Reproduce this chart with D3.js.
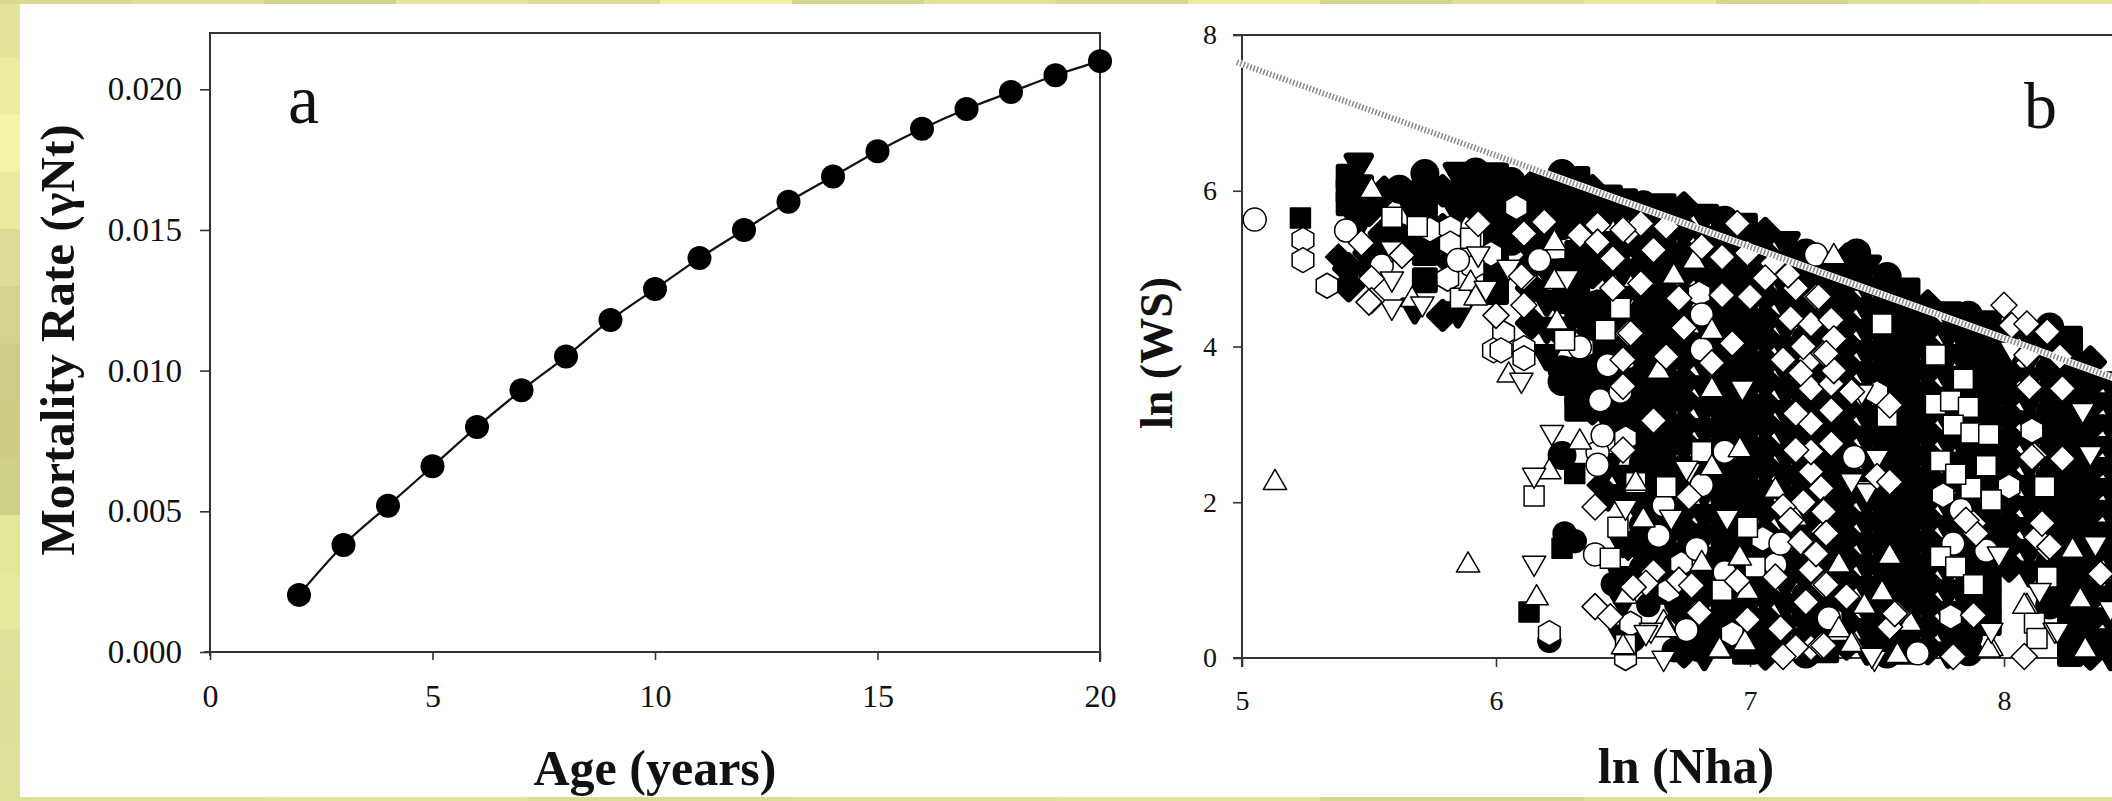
<!DOCTYPE html>
<html><head><meta charset="utf-8">
<script src="https://cdn.jsdelivr.net/npm/d3@7"></script>
<style>html,body{margin:0;background:#fff}svg{display:block}text{font-family:"Liberation Serif",serif;fill:#111}</style>
</head><body><svg id="c" width="2112" height="801"></svg>
<script>
// Panel a
const ages=[2,3,4,5,6,7,8,9,10,11,12,13,14,15,16,17,18,19,20];
const mortality=[.00203,.0038,.0052,.0066,.008,.0093,.0105,.0118,.0129,.014,.015,.016,.0169,.0178,.0186,.0193,.0199,.0205,.0210];
const xTicksA=[0,5,10,15,20];
const yTicksA=[0,.005,.01,.015,.02];
// Panel b tick values
const xTicksB=[5,6,7,8];
const yTicksB=[0,2,4,6,8];
// Boundary line of panel b
const limitX=[4.98,8.43];
const limitY=[7.65,3.6];
// Scatter series, each row: x, then the y values at that x
const filledCircle=[[5.62,6.02,5.4],[5.72,6.22,5.98],[5.92,6.24,6,5.8],[6.06,6.12,5.9,5.65,5.35],[6.26,6.22,6,5.75,5.55,4.95,4.6,4.2,3.7,3.55,2.6],[6.27,1.6],[6.31,1.5],[6.46,.95],[6.71,.69],[6.6,.68],[6.7,.1],[6.8,.1],[6.54,.23],[6.21,.22],
[6.58,5.82,5.55,5.25,5,4.72,4.45,4.15,3.9,3.62,3.35,3.05,2.8,2.5,2.25,1.95,1.7,1.42,1.15],
[6.9,5.62,5.35,5.05,4.8,4.5,4.25,3.95,3.7,3.4,3.15,2.85,2.6,2.3,2.05,1.8,1.5,1.25,.95,.7,.42,.18],
[7.22,5.2,4.95,4.65,4.4,4.1,3.85,3.55,3.3,3,2.75,2.45,2.2,1.9,1.65,1.35,1.1,.8,.55,.25,.05],
[7.42,5.2,4.9],[7.54,4.9,4.65,4.38,4.1,3.82,3.55,3.28,3,2.72,2.45,2.18,1.9,1.62,1.35,1.08,.8,.52,.25,.05],
[7.86,4.4,4.12,3.85,3.58,3.3,3.02,2.75,2.48,2.2,1.92,1.65,1.38,1.1,.82,.55,.28,.08],
[8.18,4.25,3.98,3.7,3.42,3.15,2.88,2.6,2.32,2.05,1.78,1.5,1.22,.95,.68]];
const filledSquare=[[5.23,5.65],[5.42,6.18,6,5.84],[5.72,5.72,5.45,5.2,4.85],[6,6.2,5.95,5.7,5.45,5.2,4.95,4.7],[6.32,6.15,5.9,5.65,5.2,4.95,4.7,4.4,3.7,3.4,3.2],[6.13,.59],[6.26,1.41],[6.31,2.37],
[6.66,5.8,5.52,5.25,4.95,4.7,4.42,4.12,3.85,3.6,3.3,3.02,2.75,2.5,2.2,1.95,1.65,1.4,1.1,.85],
[6.98,5.55,5.28,5,4.72,4.45,4.18,3.9,3.62,3.35,3.08,2.8,2.52,2.25,1.98,1.7,1.42,1.15,.88,.6,.32,.08],
[7.3,5.05,4.8,4.5,4.25,3.95,3.7,3.4,3.15,2.85,2.6,2.3,2.05,1.75,1.5,1.2,.95,.65,.4,.1],
[7.62,4.72,4.45,4.18,3.9,3.62,3.35,3.08,2.8,2.52,2.25,1.98,1.7,1.42,1.15,.88,.6,.32,.08],
[7.94,4.3,4.02,3.75,3.48,3.2,2.92,2.65,2.38,2.1,1.82,1.55,1.28,1,.72,.45],
[8.26,4.1,3.82,3.55,3.28,3,2.72,2.45,2.18,1.9,1.62,1.35,1.08,.8,.52,.25,.05]];
const filledDiamond=[[5.38,5.15],[5.42,5,4.78],[5.5,5.75,5.2,5],[5.56,5.98,5.45,5.2],[5.79,6,5.5,5.2,4.4],[6.14,6.05,5.85,5.65,5.3,5.05,4.75,4.3],[6.38,6,5.8,5.15,4.95,4.5,4.2,3.8,3.55,3.2],[6.41,2.22],[6.52,1.42],
[6.74,5.78,5.5,5.2,4.95,4.65,4.4,4.1,3.85,3.55,3.3,3,2.75,2.45,2.2,1.9,1.65,1.35,1.1,.8,.55,.3,.08],
[7.06,5.45,5.18,4.9,4.65,4.35,4.1,3.8,3.55,3.25,3,2.7,2.45,2.15,1.9,1.6,1.35,1.05,.8,.5,.25,.05],
[7.38,5.12,4.85,4.58,4.3,4.02,3.75,3.48,3.2,2.92,2.65,2.38,2.1,1.82,1.55,1.28,1,.72,.45,.18],
[7.7,4.52,4.25,3.98,3.7,3.42,3.15,2.88,2.6,2.32,2.05,1.78,1.5,1.22,.95,.68,.4,.12],
[8.02,4.2,3.92,3.65,3.38,3.1,2.82,2.55,2.28,2,1.72,1.45,1.18],
[8.34,3.8,3.52,3.25,2.98,2.7,2.42,2.15,1.88,1.6,1.32,1.05,.78,.5,.22,.05]];
const filledDown=[[5.46,6.36,6.08,5.6],[5.68,6,5.75,5.3,4.5],[5.85,6.24,6,5.75,4.45],[6.2,6.1,5.9,5.45,5,4.6,4.25,3.9],[6.44,5.95,5.75,5.35,5,4.6,4.35,3.95,3.5,3.1,2.5,2.1],[6.5,5.9,5.65,5.25,5,4.65,4.3,4,3.6,3.2,2.95,2.35,2.1,1.5,1.05,.75,.3],
[6.82,5.7,5.42,5.15,4.88,4.6,4.32,4.05,3.78,3.5,3.22,2.95,2.68,2.4,2.15,1.85,1.6,1.3,1.05,.8,.5,.25,.05],
[7.14,5.35,5.1,4.8,4.55,4.28,4,3.72,3.45,3.18,2.9,2.62,2.35,2.08,1.8,1.52,1.25,.98,.7,.42,.15],
[7.46,5.05,4.78,4.5,4.22,3.95,3.68,3.4,3.12,2.85,2.58,2.3,2.02,1.75,1.48,1.2,.92,.65,.38,.12],
[7.78,4.45,4.18,3.9,3.62,3.35,3.08,2.8,2.52,2.25,1.98,1.7,1.42,1.15,.88,.6,.32,.08],
[8.1,4.15,3.88,3.6,3.32,3.05,2.78,2.5,2.22,1.95,1.68,1.4,1.12],
[8.42,3.55,3.28,3,2.72,2.45,2.18,1.9,1.62,1.35,1.08,.8,.52,.25,.05]];
const openCircle=[[5.05,5.63],[5.55,5.04],[5.85,5.11],[6.17,5.11],[6.44,3.76],[6.4,2.64,2.48],[6.42,2.86],[6.81,2.22],[6.66,1.96],[6.64,1.57],[6.39,1.33],[6.75,.36],[6.9,1.1],[6.79,1.4],[7.1,1.2],[7.41,2.58],[7.66,.06],[7.93,1.38],[7.26,5.18],[6.81,4.41,3.96],[6.9,2.65],[7.31,.51],[7.8,1.47],[7.83,1.9],[5.41,5.49],[6.33,3.99],[6.41,3.31],[6.49,3.42],[7.12,1.47]];
const openSquare=[[5.59,5.66],[5.69,5.54],[5.9,5.39],[5.86,4.62],[6.27,4.08],[6.49,4.49],[6.43,4.21],[6.15,2.08],[6.67,2.2],[6.55,2.25],[6.48,1.68],[6.99,1.68],[6.45,1.28],[6.51,.17],[6.89,.87],[7.02,1.17],[6.81,2.65],[7.54,3.1],[7.52,4.29],[7.73,3.89,3.26],[7.84,3.58],[7.79,3.3],[7.86,3.22],[7.8,2.99],[7.87,2.89,2.18],[7.94,2.87],[7.75,2.53,1.3],[7.81,2.36,1.17],[7.93,2.47],[7.88,.94],[7.95,2.03],[8.16,2.2],[8.17,1.04],[8.12,.45],[8.13,.25]];
const openDiamond=[[5.47,5.33],[5.63,5.17],[5.51,4.87,4.59],[5.5,4.57],[5.93,5.58],[6.11,5.45,4.89,4.53],[6.1,4.9],[6.19,5.6],[6,4.4],[6.33,5.43],[6.4,5.56,5.34],[6.46,5.13,4.75],[6.52,4.17,5.47],[6.39,1.94,.66],[6.5,2.67],[6.45,.53],[6.62,1.1,3.05],[6.59,.96],[6.54,.91],[6.72,1],[6.77,.93],[6.95,.99],[6.76,2.07],[6.8,.58],[6.99,.49],[7.1,1.04],[7.38,.79],[7.58,.57],
[7.24,3.01,2.67,2.39,1.13,4.29,3.84,3.46,2.65,.13],[7.18,3.14,2.67,.14,4.75],[7.32,3.18,2.75,4.36,3.52,2.75,4.34],[7.28,2.18,.16],[7.21,2,4],[7.29,1.9,.94,.16,3.91,1.62,1.88],[7.3,1.6,.94],[7.2,1.49,3.66],[7.26,1.36,1.34,4.64],[7.22,.72],[7.12,.38],[7.13,.02,3.83,1.94],[7.16,1.77],[7.5,2.33],[7.55,2.26,3.25,.4],[7.8,.02],[8.08,.02],[7.88,.55,1.73],[7.89,1.6],[7.85,1.77],[8.12,2.6],[8.23,2.56,3.46],[8.17,1.41],[8.13,1.55],
[7.27,4.64],[7.33,4.1,3.69],[7.3,3.91],[7.4,3.42],[7.57,.57],[8,4.53],[8.03,4.27],[8.09,4.29,3.89],[8.17,4.19],[8.22,3.87],[8.1,3.48],[8.11,2.58],[8.15,1.73],[8.18,1.43],[8.38,1.08],
[6.57,5.58,4.81],[6.67,5.54],[6.5,5.5,3.83,3.49],[6.81,5.28],[6.89,5.15,4.66],[6.62,5.24],[6.99,5.2],[7.09,5.07],[6.95,5.58],[7.15,4.92],[7.06,4.88],[7,4.64],[6.72,4.62],[6.53,4.17],[6.74,4.24],[7.16,4.36],[6.93,4.04],[6.67,3.87],[6.85,3.79],[7.13,3.83]];
const openUp=[[5.51,6],[5.67,4.6],[5.9,4.81],[5.92,4.62],[5.89,1.19],[6.23,5.33,4.83],[6.24,4.31],[6.05,3.63],[5.13,2.25],[6.33,2.77],[6.21,2.39],[6.55,2.24],[6.58,1.77],[6.85,2.44,4.19,3.44],[6.96,1.28,2.67],[6.16,.77],[6.98,.19],[6.66,.45],[6.67,.36],[6.51,.79],[6.5,.14],[6.88,.1],[6.81,1.21],[6.99,.85],[7.1,2.15],[7.18,1.79],[7.35,1.19,.31,.36],[7.45,.66],[7.52,.83],[7.41,.16],[7.58,.03],[7.63,.44],[7.95,.12],[8.09,.66],[8.27,1.38],[8.38,1.09],[8.3,.74],[7.94,.1],[6.64,3.68],[6.7,4.9],[6.78,5.09],[7.33,5.15],[8.32,.1],[8.08,.66],[7.55,1.3],[7.4,.17]];
const openDown=[[5.59,5.26,4.87,4.51],[5.71,4.55],[5.93,5.19],[6.05,5.02],[6.28,4.89],[5.96,4.75],[6.1,3.57],[6.22,2.9],[6.15,2.35,1.22],[6.51,1.94],[6.69,1.81],[6.76,2.41],[6.61,.36],[6.75,2.44],[6.91,1.81],[6.59,.33],[6.66,0],[7.49,0],[7.5,2.58],[7.46,2.18,2.15],[7.95,.36],[8.36,1.49,1.47],[8.31,3.18],[8.2,.36],[8.14,.87],[7.44,3.42],[7.4,2.28],[7.98,1.34],[8.03,3.97],[8.34,2.63],[8.42,.64],[8.21,.36],[7.48,.04],[6.97,3.47]];
const openHex=[[5.24,5.37,5.11],[5.335,4.78],[5.74,5.5],[5.82,5.52,5.32],[5.81,4.87],[5.98,5.19],[5.91,5.02],[6.08,5.79],[6.03,4.17],[5.99,3.95],[6.02,3.95],[6.11,3.98,3.85],[6.34,3.99],[6.21,.32],[6.51,2.82,0],[6.53,.44],[6.68,.87],[6.93,.31],[6.73,1.21],[7.05,1.53],[7.76,2.09],[8.02,2.2],[7.79,.53],[7.5,3.4],[6.8,4.68],[8.11,2.92],[7.32,.51]];

const svg=d3.select("#c");
// mottled frame
const leftBand=["#e3e39b","#ecec9f","#f5f5a8","#ebeba0","#dcdc96","#d3d28e","#cfcd8a","#cdcb84","#cfd188","#e2e898","#e6ea9c","#dfe29a","#dde098","#e0e29c"];
const topBand=["#d9d98f","#e0e097","#d2d28a","#e6e69d","#dcdc92","#f0f0a2","#d4d48c","#e3e398","#d7d78e","#ecec9f","#d4d48a","#e0e096","#ebeb9c","#d6d68c","#dede94","#e6e69a"];
const bottomBand=["#dfe298","#e3e69a","#d9dc92","#dde096","#e2e49a","#d4d68c","#dde096","#e0e298"];
const lb=d3.scaleBand().domain(d3.range(leftBand.length)).range([0,801]);
const tb=d3.scaleBand().domain(d3.range(topBand.length)).range([0,2112]);
const bb=d3.scaleBand().domain(d3.range(bottomBand.length)).range([0,2112]);
svg.selectAll(".lb").data(leftBand).join("rect").attr("x",0).attr("y",(d,i)=>lb(i)).attr("width",20).attr("height",lb.bandwidth()+1).attr("fill",d=>d);
svg.selectAll(".tb").data(topBand).join("rect").attr("x",(d,i)=>tb(i)).attr("y",0).attr("width",tb.bandwidth()+1).attr("height",4).attr("fill",d=>d);
svg.selectAll(".bb").data(bottomBand).join("rect").attr("x",(d,i)=>bb(i)).attr("y",797).attr("width",bb.bandwidth()+1).attr("height",4).attr("fill",d=>d);

const ink="#333";
function styleAxis(g,size){
  g.select(".domain").remove();
  g.selectAll("line").attr("stroke",ink).attr("stroke-width",1.6);
  g.selectAll("text").attr("font-size",size).attr("fill","#111").attr("font-family","Liberation Serif");
}
// ---------- panel a
const xA=d3.scaleLinear().domain([0,20]).range([210,1100]);
const yA=d3.scaleLinear().domain([0,.022]).range([652,33]);
const A=svg.append("g");
A.append("path").attr("fill","none").attr("stroke",ink).attr("stroke-width",2)
 .attr("d",`M${xA(0)},${yA(.022)+30}V${yA(.022)}H${xA(20)}V${yA(0)+10}M${xA(0)},${yA(0)+4}V${yA(.022)}M${xA(0)-6},${yA(0)}H${xA(20)}`);
A.append("g").attr("transform",`translate(0,${yA(0)})`).call(d3.axisBottom(xA).tickValues(xTicksA).tickSize(8).tickPadding(24).tickFormat(d3.format("d"))).call(g=>styleAxis(g,32));
A.append("g").attr("transform",`translate(${xA(0)},0)`).call(d3.axisLeft(yA).tickValues(yTicksA).tickSize(10).tickPadding(18).tickFormat(d3.format(".3f"))).call(g=>styleAxis(g,33));
const pts=ages.map((a,i)=>[a,mortality[i]]);
A.append("path").attr("fill","none").attr("stroke","#111").attr("stroke-width",2.2).attr("d",d3.line().x(d=>xA(d[0])).y(d=>yA(d[1])).curve(d3.curveMonotoneX)(pts));
A.selectAll("circle").data(pts).join("circle").attr("cx",d=>xA(d[0])).attr("cy",d=>yA(d[1])).attr("r",12).attr("fill","#000");
svg.append("text").attr("x",288).attr("y",123).attr("font-size",70).text("a");
svg.append("text").attr("text-anchor","middle").attr("font-weight","bold").attr("font-size",49).attr("transform","translate(74,340) rotate(-90)").text("Mortality Rate (γNt)");
svg.append("text").attr("text-anchor","middle").attr("font-weight","bold").attr("font-size",50).attr("x",655).attr("y",785).text("Age (years)");

// ---------- panel b
const xB=d3.scaleLinear().domain([5,8]).range([1242,2004]);
const yB=d3.scaleLinear().domain([0,8]).range([658,35]);
const B=svg.append("g");
B.append("path").attr("fill","none").attr("stroke",ink).attr("stroke-width",2)
 .attr("d",`M${xB(5)-9},${yB(8)}H2112M${xB(5)},${yB(8)}V${yB(0)+9}M${xB(5)-9},${yB(0)}H2112`);
B.append("g").attr("transform",`translate(0,${yB(0)})`).call(d3.axisBottom(xB).tickValues(xTicksB).tickSize(9).tickPadding(23).tickFormat(d3.format("d"))).call(g=>styleAxis(g,28));
B.append("g").attr("transform",`translate(${xB(5)},0)`).call(d3.axisLeft(yB).tickValues(yTicksB).tickSize(9).tickPadding(16).tickFormat(d3.format("d"))).call(g=>styleAxis(g,28));

const poly=(n,r,rot)=>"M"+d3.range(n).map(i=>{const t=rot+i*2*Math.PI/n;return [(r*Math.sin(t)).toFixed(2),(-r*Math.cos(t)).toFixed(2)].join(",")}).join("L")+"Z";
const shapes={
  circle:d3.symbol().type(d3.symbolCircle).size(Math.PI*11.5*11.5)(),
  square:d3.symbol().type(d3.symbolSquare).size(20*20)(),
  diamond:poly(4,13,0),
  up:poly(3,13.5,0),
  down:poly(3,13.5,Math.PI),
  hex:poly(6,12.5,0)
};
// filled marks inside the dense mass merge; single ones stay at true size
function draw(rows,shape,fill,sw){
  const flat=rows.flatMap(r=>r.slice(1).map(y=>[r[0],y,r.length>2?sw:1.5]));
  B.append("g").selectAll("path").data(flat).join("path").attr("d",shapes[shape])
   .attr("transform",d=>`translate(${xB(d[0])},${yB(d[1])})`)
   .attr("fill",fill).attr("stroke","#000").attr("stroke-width",d=>d[2]).attr("stroke-linejoin","round");
}
draw(filledCircle,"circle","#000",6);
draw(filledSquare,"square","#000",6);
draw(filledDiamond,"diamond","#000",7);
draw(filledDown,"down","#000",7);
draw(openHex,"hex","#fff",1.5);
draw(openCircle,"circle","#fff",1.5);
draw(openSquare,"square","#fff",1.5);
draw(openUp,"up","#fff",1.5);
draw(openDown,"down","#fff",1.5);
draw(openDiamond,"diamond","#fff",1.5);

const limit=d3.line().x(d=>xB(d[0])).y(d=>yB(d[1]));
const lp=limit(limitX.map((x,i)=>[x,limitY[i]]));
B.append("path").attr("d",lp).attr("stroke","#fff").attr("stroke-width",7).attr("fill","none");
B.append("path").attr("d",lp).attr("stroke","#888").attr("stroke-width",6).attr("stroke-dasharray","1.5 2").attr("fill","none");
svg.append("text").attr("x",2024).attr("y",128).attr("font-size",66).text("b");
svg.append("text").attr("text-anchor","middle").attr("font-weight","bold").attr("font-size",46).attr("transform","translate(1172,353) rotate(-90)").text("ln (WS)");
svg.append("text").attr("text-anchor","middle").attr("font-weight","bold").attr("font-size",50).attr("x",1686).attr("y",783).text("ln (Nha)");
</script></body></html>
